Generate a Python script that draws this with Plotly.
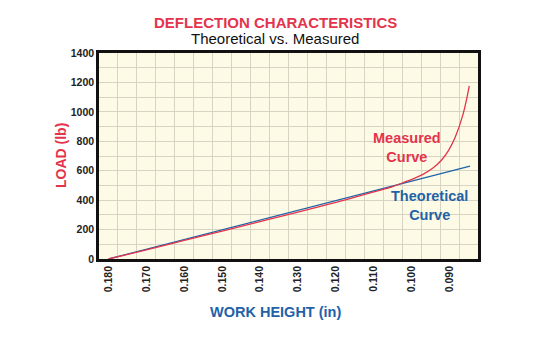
import plotly.graph_objects as go

# Data
theo_x = [0.180, 0.0846]
theo_y = [0, 632]
meas_x = [0.180, 0.170, 0.160, 0.150, 0.140, 0.130, 0.120, 0.110, 0.105,
          0.1022, 0.0996, 0.0969, 0.0943, 0.0921, 0.0903, 0.0886, 0.0864, 0.0848]
meas_y = [0, 62, 126, 190, 254, 318, 385, 456, 492,
          520, 545, 577, 620, 673, 737, 822, 988, 1176]
x_ticks = [0.180, 0.170, 0.160, 0.150, 0.140, 0.130, 0.120, 0.110, 0.100, 0.090]
x_labels = ["0.180", "0.170", "0.160", "0.150", "0.140", "0.130", "0.120", "0.110", "0.100", "0.090"]
y_ticks = [0, 200, 400, 600, 800, 1000, 1200, 1400]

RED = "#e3344c"
BLUE = "#1f62a8"
FONT = "Liberation Sans, Arial, sans-serif"

W, H = 557, 338
ML, MR, MT, MB = 99, 79, 53, 79
PW, PH = W - ML - MR, H - MT - MB


def px(x):
    return (x - ML) / PW


def py(y):
    return (H - y - MB) / PH


fig = go.Figure()
fig.add_trace(go.Scatter(x=theo_x, y=theo_y, mode="lines",
                         line=dict(color=BLUE, width=1.3), showlegend=False))
fig.add_trace(go.Scatter(x=meas_x, y=meas_y, mode="lines", line_shape="spline",
                         line=dict(color=RED, width=1.3), showlegend=False))

fig.update_layout(
    width=W, height=H,
    margin=dict(l=ML, r=MR, t=MT, b=MB),
    paper_bgcolor="white",
    plot_bgcolor="#fdfbe6",
    font=dict(family=FONT, color="black"),
    annotations=[
        dict(text="<b>DEFLECTION CHARACTERISTICS</b>", x=px(275), y=py(22),
             xref="paper", yref="paper", showarrow=False, yanchor="middle",
             font=dict(size=15, color=RED)),
        dict(text="Theoretical vs. Measured", x=px(275), y=py(38),
             xref="paper", yref="paper", showarrow=False, yanchor="middle",
             font=dict(size=15, color="#111")),
        dict(text="<b>WORK HEIGHT (in)</b>", x=px(275), y=py(312),
             xref="paper", yref="paper", showarrow=False, yanchor="middle",
             font=dict(size=14.5, color=BLUE)),
        dict(text="<b>LOAD (lb)</b>", x=px(51), y=py(156), textangle=-90,
             xref="paper", yref="paper", showarrow=False, yanchor="middle",
             font=dict(size=14, color=RED)),
        dict(text="<b>Measured<br>Curve</b>", x=0.1012, y=761, xref="x", yref="y",
             showarrow=False, yanchor="middle",
             font=dict(size=14.5, color=RED), align="center"),
        dict(text="<b>Theoretical<br>Curve</b>", x=0.0952, y=367, xref="x", yref="y",
             showarrow=False, yanchor="middle",
             font=dict(size=14.5, color=BLUE), align="center"),
    ],
)

fig.update_xaxes(
    range=[0.1825, 0.0825],
    tickvals=x_ticks, ticktext=[f"<b>{t}</b>" for t in x_labels],
    tickangle=-90, tickfont=dict(size=10.5, color="#222"),
    showgrid=False, zeroline=False,
    ticks="", ticklen=0,
    minor=dict(tick0=0.0025, dtick=0.005, showgrid=True, gridcolor="#d8d4c4", gridwidth=1),
    showline=True, linecolor="#111", linewidth=2.5, mirror=True,
)
fig.update_yaxes(
    range=[0, 1400],
    tickvals=y_ticks, ticktext=[f"<b>{t}</b>" for t in y_ticks],
    tickfont=dict(size=10.5, color="#222"),
    showgrid=True, gridcolor="#d8d4c4", gridwidth=1, zeroline=False,
    minor=dict(dtick=100, showgrid=True, gridcolor="#d8d4c4", gridwidth=1),
    showline=True, linecolor="#111", linewidth=2.5, mirror=True,
)

fig.write_html("out.html")
